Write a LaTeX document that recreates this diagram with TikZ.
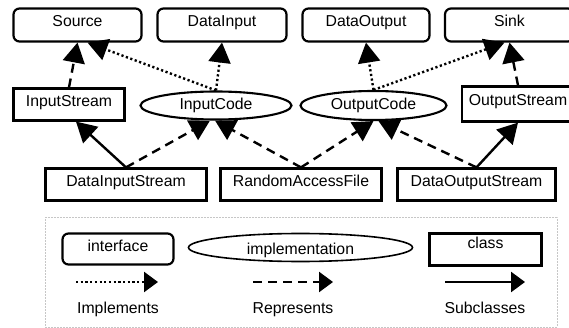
\documentclass[tikz,border=0pt]{standalone}
\usepackage{fontspec}
\setmainfont{Liberation Sans}
\usetikzlibrary{arrows.meta,shapes.geometric}

\begin{document}
\begin{tikzpicture}[x=1pt,y=-1pt,
  every node/.style={font=\fontsize{15.8}{18}\selectfont, inner sep=0pt},
  iface/.style={draw, line width=2.2pt, rounded corners=6pt, text height=11.5pt, text depth=7.5pt},
  cls/.style={draw, line width=2.2pt, text height=11.5pt, text depth=7.5pt},
  impl/.style={draw, ellipse, line width=2.1pt, text height=11.3pt, text depth=3pt},
  conn/.style={line width=2.4pt, -{Triangle[length=20pt,width=22pt]}},
  imp/.style={conn, dash pattern=on 2.2pt off 2.5pt},
  rep/.style={conn, dash pattern=on 9pt off 6pt},
  sub/.style={conn},
  lgtip/.style={-{Triangle[length=14pt,width=20pt]}},
  lgframe/.style={draw=gray!45, line width=1pt, dash pattern=on 2pt off 1pt}
]
\useasboundingbox (0,0) rectangle (569,328);

% top row: interfaces
\node[iface, minimum width=128pt, minimum height=33pt] (src) at (77.5,25) {Source};
\node[iface, minimum width=129pt, minimum height=33pt] (di) at (222,25) {DataInput};
\node[iface, minimum width=127pt, minimum height=33pt] (do) at (366,25) {DataOutput};
\node[iface, minimum width=129pt, minimum height=33pt] (sk) at (509.5,25) {Sink};

% middle row
\node[cls, minimum width=111pt, minimum height=32pt] (is) at (69,104.5) {InputStream};
\node[impl, minimum width=151pt, minimum height=28pt] (ic) at (216,105.5) {InputCode};
\node[impl, minimum width=146pt, minimum height=29pt] (oc) at (373.5,105.5) {OutputCode};
\node[cls, minimum width=112pt, minimum height=35pt] (os) at (518,104) {OutputStream};

% bottom row
\node[cls, minimum width=161pt, minimum height=32pt] (dis) at (126,184.5) {DataInputStream};
\node[cls, minimum width=161pt, minimum height=32pt] (raf) at (301,184.5) {RandomAccessFile};
\node[cls, minimum width=158pt, minimum height=32pt] (dos) at (476.5,184.5) {DataOutputStream};

% connectors
\draw[rep] (is.north) -- (src.south);
\draw[imp] (ic.north) -- ([xshift=10pt]src.south);
\draw[imp] (ic.north) -- (di.south);
\draw[imp] (oc.north) -- (do.south);
\draw[imp] (oc.north) -- ([xshift=-5pt]sk.south);
\draw[rep] (os.north) -- (sk.south);
\draw[sub] (dis.north) -- ([xshift=7pt]is.south);
\draw[rep] (dis.north) -- ([xshift=-6pt]ic.south);
\draw[rep] (raf.north) -- ([xshift=-1pt]ic.south);
\draw[rep] (raf.north) -- (oc.south);
\draw[rep] (dos.north) -- ([xshift=5pt]oc.south);
\draw[sub] (dos.north) -- (os.south);

% legend
\node[lgframe, minimum width=512pt, minimum height=109pt] (lg) at (301,272.5) {};
\node[iface, minimum width=111pt, minimum height=31pt, text height=11.3pt, text depth=6pt] (li) at (118,249) {interface};
\node[impl, line width=1.6pt, minimum width=224pt, minimum height=28pt, text height=14.3pt, text depth=0pt] (le) at (300.5,247.5) {implementation};
\node[cls, minimum width=112pt, minimum height=32pt, text height=11.3pt, text depth=13pt] (lc) at (485.5,249.5) {class};

\coordinate (a1s) at (76,282);
\coordinate (a1e) at (158,282);
\coordinate (a2s) at (253,282);
\coordinate (a2e) at (333,282);
\coordinate (a3s) at (445,282);
\coordinate (a3e) at (525,282);
\draw[imp, lgtip] (a1s) -- (a1e);
\draw[rep, lgtip] (a2s) -- (a2e);
\draw[sub, lgtip] (a3s) -- (a3e);

\node[anchor=base] (t1) at (118,313.5) {Implements};
\node[anchor=base] (t2) at (293,313.5) {Represents};
\node[anchor=base] (t3) at (485,313.5) {Subclasses};
\end{tikzpicture}
\end{document}
